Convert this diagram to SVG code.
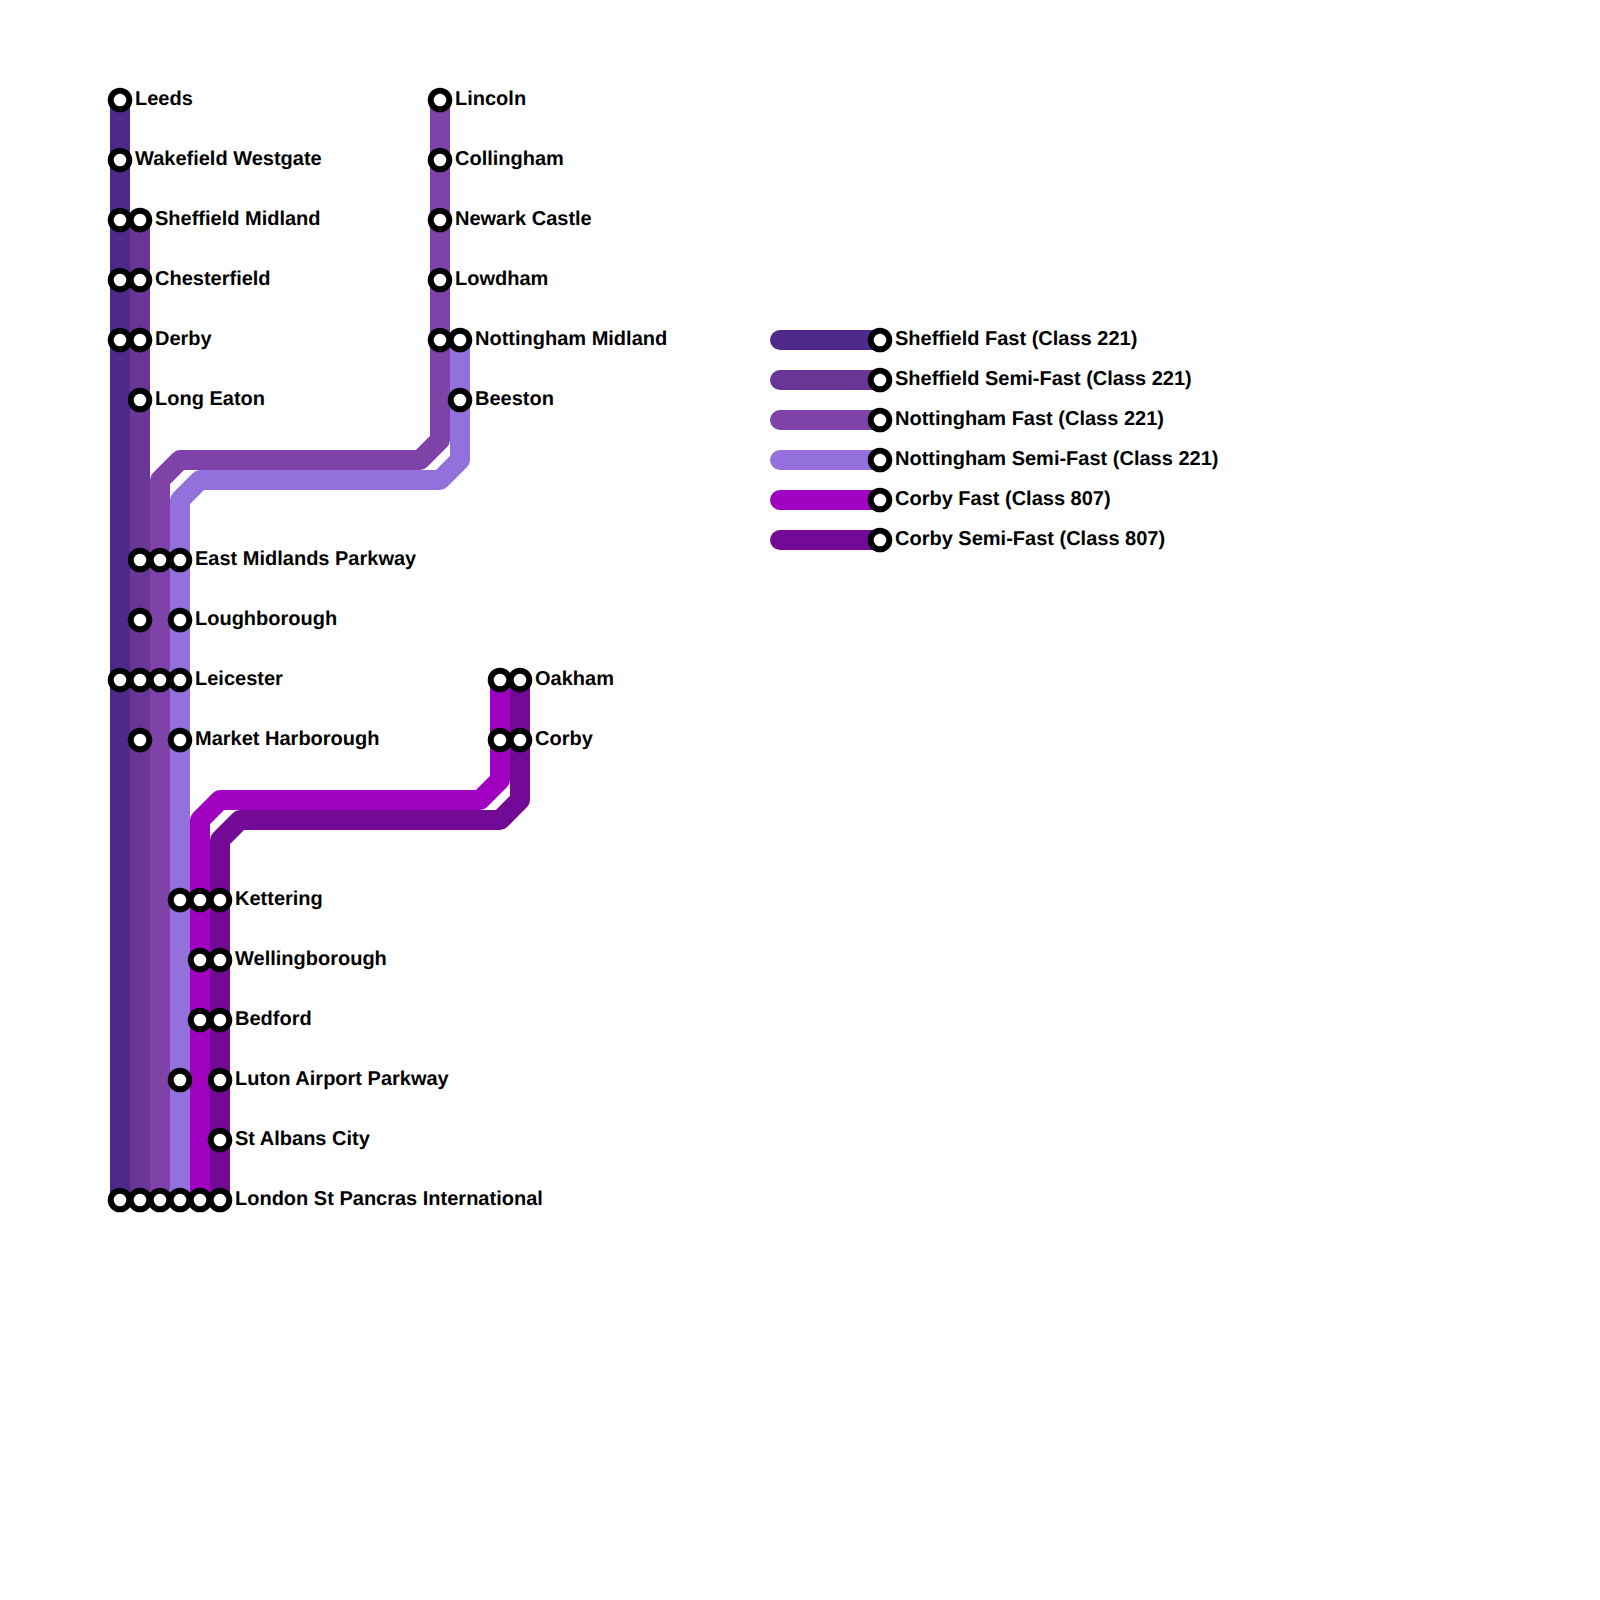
<svg xmlns="http://www.w3.org/2000/svg" width="1600" height="1600" viewBox="0 0 1600 1600">
<style>
.l{fill:none;stroke-width:20;stroke-linejoin:round;stroke-linecap:round}
.a{stroke:#4f2a8a}.b{stroke:#6a3596}.c{stroke:#7e42a8}.d{stroke:#9470dc}.e{stroke:#a000c0}.f{stroke:#730a96}
circle{fill:#fff;stroke:#000;stroke-width:6;r:9.3px}
text{font-family:"Liberation Sans",Arial,sans-serif;font-weight:700;font-size:20px;fill:#000;text-rendering:geometricPrecision}
</style>
<rect width="1600" height="1600" fill="#fff"/>
<g id="connectors">
<path class="l a" d="M120 100V1200"/>
<path class="l b" d="M140 220V1200"/>
<path class="l c" d="M440 100V440L420 460H180L160 480V1200"/>
<path class="l d" d="M460 340V460L440 480H200L180 500V1200"/>
<path class="l e" d="M500 680V780L480 800H220L200 820V1200"/>
<path class="l f" d="M520 680V800L500 820H240L220 840V1200"/>
<path class="l a" d="M780 340H880"/>
<path class="l b" d="M780 380H880"/>
<path class="l c" d="M780 420H880"/>
<path class="l d" d="M780 460H880"/>
<path class="l e" d="M780 500H880"/>
<path class="l f" d="M780 540H880"/>
</g>
<g id="leeds"><circle cx="120" cy="100" r="9.3"/><text x="135" y="104.5">Leeds</text></g>
<g id="wakefield-westgate"><circle cx="120" cy="160" r="9.3"/><text x="135" y="164.5">Wakefield Westgate</text></g>
<g id="sheffield-midland"><circle cx="120" cy="220" r="9.3"/><circle cx="140" cy="220" r="9.3"/><text x="155" y="224.5">Sheffield Midland</text></g>
<g id="chesterfield"><circle cx="120" cy="280" r="9.3"/><circle cx="140" cy="280" r="9.3"/><text x="155" y="284.5">Chesterfield</text></g>
<g id="derby"><circle cx="120" cy="340" r="9.3"/><circle cx="140" cy="340" r="9.3"/><text x="155" y="344.5">Derby</text></g>
<g id="long-eaton"><circle cx="140" cy="400" r="9.3"/><text x="155" y="404.5">Long Eaton</text></g>
<g id="east-midlands-parkway"><circle cx="140" cy="560" r="9.3"/><circle cx="160" cy="560" r="9.3"/><circle cx="180" cy="560" r="9.3"/><text x="195" y="564.5">East Midlands Parkway</text></g>
<g id="loughborough"><circle cx="140" cy="620" r="9.3"/><circle cx="180" cy="620" r="9.3"/><text x="195" y="624.5">Loughborough</text></g>
<g id="leicester"><circle cx="120" cy="680" r="9.3"/><circle cx="140" cy="680" r="9.3"/><circle cx="160" cy="680" r="9.3"/><circle cx="180" cy="680" r="9.3"/><text x="195" y="684.5">Leicester</text></g>
<g id="market-harborough"><circle cx="140" cy="740" r="9.3"/><circle cx="180" cy="740" r="9.3"/><text x="195" y="744.5">Market Harborough</text></g>
<g id="kettering"><circle cx="180" cy="900" r="9.3"/><circle cx="200" cy="900" r="9.3"/><circle cx="220" cy="900" r="9.3"/><text x="235" y="904.5">Kettering</text></g>
<g id="wellingborough"><circle cx="200" cy="960" r="9.3"/><circle cx="220" cy="960" r="9.3"/><text x="235" y="964.5">Wellingborough</text></g>
<g id="bedford"><circle cx="200" cy="1020" r="9.3"/><circle cx="220" cy="1020" r="9.3"/><text x="235" y="1024.5">Bedford</text></g>
<g id="luton-airport-parkway"><circle cx="180" cy="1080" r="9.3"/><circle cx="220" cy="1080" r="9.3"/><text x="235" y="1084.5">Luton Airport Parkway</text></g>
<g id="st-albans-city"><circle cx="220" cy="1140" r="9.3"/><text x="235" y="1144.5">St Albans City</text></g>
<g id="london-st-pancras"><circle cx="120" cy="1200" r="9.3"/><circle cx="140" cy="1200" r="9.3"/><circle cx="160" cy="1200" r="9.3"/><circle cx="180" cy="1200" r="9.3"/><circle cx="200" cy="1200" r="9.3"/><circle cx="220" cy="1200" r="9.3"/><text x="235" y="1204.5">London St Pancras International</text></g>
<g id="lincoln"><circle cx="440" cy="100" r="9.3"/><text x="455" y="104.5">Lincoln</text></g>
<g id="collingham"><circle cx="440" cy="160" r="9.3"/><text x="455" y="164.5">Collingham</text></g>
<g id="newark-castle"><circle cx="440" cy="220" r="9.3"/><text x="455" y="224.5">Newark Castle</text></g>
<g id="lowdham"><circle cx="440" cy="280" r="9.3"/><text x="455" y="284.5">Lowdham</text></g>
<g id="nottingham-midland"><circle cx="440" cy="340" r="9.3"/><circle cx="460" cy="340" r="9.3"/><text x="475" y="344.5">Nottingham Midland</text></g>
<g id="beeston"><circle cx="460" cy="400" r="9.3"/><text x="475" y="404.5">Beeston</text></g>
<g id="oakham"><circle cx="500" cy="680" r="9.3"/><circle cx="520" cy="680" r="9.3"/><text x="535" y="684.5">Oakham</text></g>
<g id="corby"><circle cx="500" cy="740" r="9.3"/><circle cx="520" cy="740" r="9.3"/><text x="535" y="744.5">Corby</text></g>
<g id="legend-sheffield-fast"><circle cx="880" cy="340" r="9.3"/><text x="895" y="344.5">Sheffield Fast (Class 221)</text></g>
<g id="legend-sheffield-semi-fast"><circle cx="880" cy="380" r="9.3"/><text x="895" y="384.5">Sheffield Semi-Fast (Class 221)</text></g>
<g id="legend-nottingham-fast"><circle cx="880" cy="420" r="9.3"/><text x="895" y="424.5">Nottingham Fast (Class 221)</text></g>
<g id="legend-nottingham-semi-fast"><circle cx="880" cy="460" r="9.3"/><text x="895" y="464.5">Nottingham Semi-Fast (Class 221)</text></g>
<g id="legend-corby-fast"><circle cx="880" cy="500" r="9.3"/><text x="895" y="504.5">Corby Fast (Class 807)</text></g>
<g id="legend-corby-semi-fast"><circle cx="880" cy="540" r="9.3"/><text x="895" y="544.5">Corby Semi-Fast (Class 807)</text></g>
</svg>
